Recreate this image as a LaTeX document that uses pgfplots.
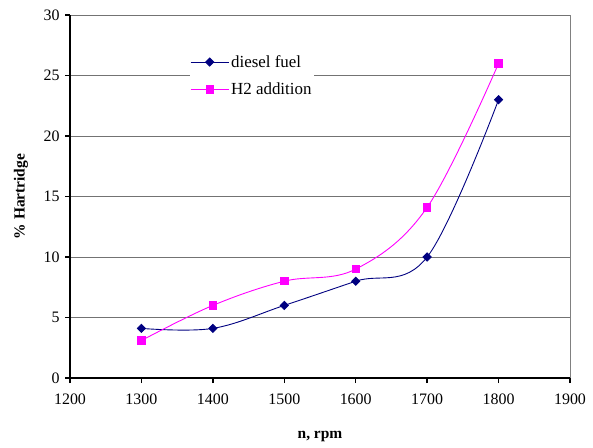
\documentclass[border=0pt]{standalone}
\usepackage{pgfplots}
\pgfplotsset{compat=1.18}
\usepackage{fontspec}
\setmainfont{Liberation Serif}
\definecolor{navyc}{RGB}{0,0,128}
\definecolor{magc}{RGB}{255,0,255}
\begin{document}
\begin{tikzpicture}
\begin{axis}[
  scale only axis,
  width=500bp, height=363bp,
  xmin=1200, xmax=1900, ymin=0, ymax=30,
  xtick={1200,1300,...,1900},
  ytick={0,5,...,30},
  axis x line*=bottom, axis y line*=left,
  axis line style={line width=1.6pt, -},
  tick style={line width=1.4pt, black},
  tick align=outside,
  major tick length=5bp,
  ymajorgrids,
  grid style={black!55, line width=0.8pt},
  /pgf/number format/assume math mode=true,
  /pgf/number format/1000 sep={},
  tick label style={font=\fontsize{16}{19}\selectfont},
  xticklabel style={yshift=-7bp},
  yticklabel style={xshift=-2bp},
  xlabel={\textbf{n, rpm}},
  ylabel={\textbf{\% Hartridge}},
  label style={font=\fontsize{15.5}{18}\selectfont},
  xlabel style={at={(axis description cs:0.5,-0.16)}, anchor=center},
  ylabel style={at={(axis description cs:-0.098,0.5)}, anchor=center, rotate=0},
  legend style={at={(axis description cs:0.24,0.895)}, anchor=north west, draw=none, fill=white,
    inner sep=0pt, font=\fontsize{17}{20}\selectfont, row sep=10bp},
  legend cell align=left,
  legend image code/.code={\draw[mark repeat=2,mark phase=2,#1] plot coordinates {(0bp,0bp) (19bp,0bp) (38bp,0bp)};},
  clip=false,
]
\addplot[navyc, smooth, tension=0.6, line width=0.9pt, mark=square*, mark size=2.85bp, mark options={rotate=45, fill=navyc, draw=navyc, solid}]
  coordinates {(1300,4.1) (1400,4.1) (1500,6) (1600,8) (1700,10) (1800,23)};
\addlegendentry{diesel fuel}
\addplot[magc, smooth, tension=0.6, line width=0.9pt, mark=square*, mark size=3.7bp, mark options={fill=magc, draw=magc, solid}]
  coordinates {(1300,3.1) (1400,6) (1500,8) (1600,9) (1700,14.1) (1800,26)};
\addlegendentry{H2 addition}
\draw[black!50, line width=1pt] (axis cs:1900,0) -- (axis cs:1900,30);
\path (rel axis cs:0,0) ++(-70bp,-69bp) coordinate (bbA);
\path (rel axis cs:1,1) ++(23bp,15bp) coordinate (bbB);
\end{axis}
\path (bbA) (bbB);
\end{tikzpicture}
\end{document}
